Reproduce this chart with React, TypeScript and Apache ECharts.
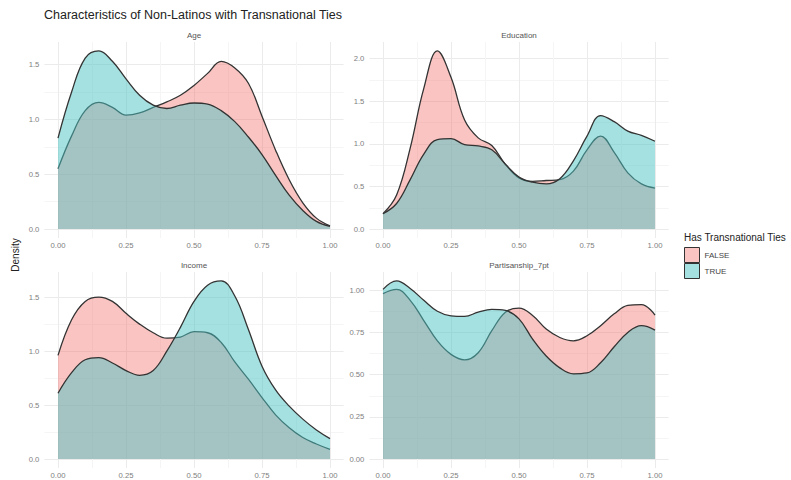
import React, { useEffect, useRef } from "react";
import * as echarts from "echarts";

// ---- data (density estimates) ----
const xValues = [0, 0.05, 0.1, 0.15, 0.2, 0.25, 0.3, 0.35, 0.4, 0.45, 0.5, 0.55, 0.6, 0.65, 0.7, 0.75, 0.8, 0.85, 0.9, 0.95, 1];

const ageFalse = [0.55, 0.85, 1.08, 1.155, 1.11, 1.04, 1.06, 1.11, 1.16, 1.22, 1.31, 1.42, 1.53, 1.47, 1.33, 1.03, 0.72, 0.45, 0.24, 0.1, 0.03];
const ageTrue = [0.83, 1.25, 1.56, 1.625, 1.53, 1.37, 1.22, 1.13, 1.1, 1.13, 1.15, 1.14, 1.08, 0.98, 0.84, 0.68, 0.49, 0.31, 0.17, 0.07, 0.025];

const eduFalse = [0.18, 0.4, 0.95, 1.65, 2.09, 1.78, 1.28, 1.07, 0.98, 0.76, 0.6, 0.56, 0.57, 0.58, 0.68, 0.93, 1.09, 0.9, 0.66, 0.53, 0.48];
const eduTrue = [0.18, 0.3, 0.58, 0.88, 1.05, 1.06, 0.99, 0.975, 0.93, 0.76, 0.61, 0.55, 0.53, 0.59, 0.8, 1.09, 1.33, 1.26, 1.15, 1.1, 1.03];

const incFalse = [0.96, 1.29, 1.46, 1.5, 1.46, 1.35, 1.25, 1.17, 1.12, 1.13, 1.18, 1.17, 1.08, 0.9, 0.74, 0.57, 0.41, 0.29, 0.2, 0.14, 0.09];
const incTrue = [0.61, 0.8, 0.92, 0.94, 0.89, 0.82, 0.776, 0.82, 1.0, 1.22, 1.46, 1.61, 1.65, 1.51, 1.2, 0.86, 0.64, 0.49, 0.37, 0.27, 0.19];

const parFalse = [0.98, 1.005, 0.94, 0.82, 0.7, 0.62, 0.587, 0.63, 0.76, 0.87, 0.894, 0.85, 0.77, 0.72, 0.7, 0.73, 0.79, 0.86, 0.91, 0.915, 0.853];
const parTrue = [1.005, 1.055, 1.01, 0.94, 0.875, 0.848, 0.845, 0.87, 0.886, 0.88, 0.83, 0.71, 0.61, 0.54, 0.505, 0.51, 0.57, 0.665, 0.75, 0.79, 0.764];

const xMajorTicks = [0, 0.25, 0.5, 0.75, 1];
const xMinorTicks = [0.125, 0.375, 0.625, 0.875];
const yMajorHalf = [0, 0.5, 1, 1.5, 2];
const yMinorHalf = [0.25, 0.75, 1.25, 1.75];
const yMajorQuarter = [0, 0.25, 0.5, 0.75, 1];
const yMinorQuarter = [0.125, 0.375, 0.625, 0.875];

const panelNames = ["Age", "Education", "Income", "Partisanship_7pt"];
const groupNames = ["FALSE", "TRUE"];
const legendTitle = "Has Transnational Ties";
const chartTitle = "Characteristics of Non-Latinos with Transnational Ties";
const yTitle = "Density";

const FONT = "'Liberation Sans', Arial, Helvetica, sans-serif";
const FALSE_FILL = "rgba(240,108,100,0.4)";
const TRUE_FILL = "rgba(77,195,195,0.5)";
const LINE = "#333333";
const MAJOR_GRID = "#ebebeb";
const MINOR_GRID = "#f5f5f5";
const TICK_COLOR = "#808080";

const panels = [
  { name: panelNames[0], f: ageFalse, t: ageTrue, yMajor: yMajorHalf, yMinor: yMinorHalf, dec: 1 },
  { name: panelNames[1], f: eduFalse, t: eduTrue, yMajor: yMajorHalf, yMinor: yMinorHalf, dec: 1 },
  { name: panelNames[2], f: incFalse, t: incTrue, yMajor: yMajorHalf, yMinor: yMinorHalf, dec: 1 },
  { name: panelNames[3], f: parFalse, t: parTrue, yMajor: yMajorQuarter, yMinor: yMinorQuarter, dec: 2 },
];

// layout
const colLeft = [44.4, 369.4];
const rowTop = [42, 272];
const panelW = 299.2;
const panelH = 196;

export default function App() {
  const ref = useRef<HTMLDivElement>(null);

  useEffect(() => {
    if (!ref.current) return;
    const chart = echarts.init(ref.current, null, { renderer: "svg" });

    const grids: any[] = [];
    const xAxes: any[] = [];
    const yAxes: any[] = [];
    const series: any[] = [];
    const graphics: any[] = [];

    panels.forEach((p, i) => {
      const col = i % 2;
      const row = Math.floor(i / 2);
      const left = colLeft[col];
      const top = rowTop[row];
      grids.push({ left, top, width: panelW, height: panelH, containLabel: false });

      const xMin = -0.05;
      const xMax = 1.05;
      xAxes.push({
        gridIndex: i,
        type: "value",
        min: xMin,
        max: xMax,
        position: "bottom",
        axisLine: { show: false },
        axisTick: { show: false, customValues: xMajorTicks },
        axisLabel: {
          customValues: xMajorTicks,
          formatter: (v: number) => v.toFixed(2),
          fontSize: 7.7,
          color: TICK_COLOR,
          fontFamily: FONT,
          margin: 3,
        },
        splitLine: { show: true, lineStyle: { color: MAJOR_GRID, width: 1 } },
      });
      xAxes.push({
        gridIndex: i,
        type: "value",
        min: xMin,
        max: xMax,
        position: "top",
        axisLine: { show: false },
        axisTick: { show: false, customValues: xMinorTicks },
        axisLabel: { show: false, customValues: xMinorTicks },
        splitLine: { show: true, lineStyle: { color: MINOR_GRID, width: 1 } },
      });

      const dmax = Math.max(...p.f, ...p.t);
      const yMin = -0.05 * dmax;
      const yMax = 1.05 * dmax;
      yAxes.push({
        gridIndex: i,
        type: "value",
        min: yMin,
        max: yMax,
        position: "left",
        axisLine: { show: false },
        axisTick: { show: false, customValues: p.yMajor },
        axisLabel: {
          customValues: p.yMajor,
          formatter: (v: number) => v.toFixed(p.dec),
          fontSize: 7.7,
          color: TICK_COLOR,
          fontFamily: FONT,
          margin: 5,
        },
        splitLine: { show: true, lineStyle: { color: MAJOR_GRID, width: 1 } },
      });
      yAxes.push({
        gridIndex: i,
        type: "value",
        min: yMin,
        max: yMax,
        position: "right",
        axisLine: { show: false },
        axisTick: { show: false, customValues: p.yMinor },
        axisLabel: { show: false, customValues: p.yMinor },
        splitLine: { show: true, lineStyle: { color: MINOR_GRID, width: 1 } },
      });

      const mk = (name: string, vals: number[], fill: string, z: number) => ({
        type: "line",
        name,
        xAxisIndex: 2 * i,
        yAxisIndex: 2 * i,
        data: xValues.map((x, k) => [x, vals[k]]),
        smooth: 0.4,
        symbol: "none",
        silent: true,
        z,
        lineStyle: { color: LINE, width: 1.3 },
        itemStyle: { color: fill },
        areaStyle: { color: fill, opacity: 1 },
      });
      series.push(mk(groupNames[0], p.f, FALSE_FILL, 2));
      series.push(mk(groupNames[1], p.t, TRUE_FILL, 3));

      graphics.push({
        type: "text",
        x: left + panelW / 2,
        y: top - 7,
        style: {
          text: p.name,
          fill: "#555555",
          font: `8px ${FONT}`,
          textAlign: "center",
          textVerticalAlign: "middle",
        },
      });
    });

    graphics.push({
      type: "text",
      x: 44,
      y: 15,
      style: {
        text: chartTitle,
        fill: "#222222",
        font: `12.5px ${FONT}`,
        textAlign: "left",
        textVerticalAlign: "middle",
      },
    });
    graphics.push({
      type: "text",
      x: 15,
      y: 255,
      rotation: Math.PI / 2,
      style: {
        text: yTitle,
        fill: "#222222",
        font: `10px ${FONT}`,
        textAlign: "center",
        textVerticalAlign: "middle",
      },
    });
    graphics.push({
      type: "text",
      x: 684,
      y: 237,
      style: {
        text: legendTitle,
        fill: "#222222",
        font: `10px ${FONT}`,
        textAlign: "left",
        textVerticalAlign: "middle",
      },
    });

    chart.setOption({
      animation: false,
      backgroundColor: "#ffffff",
      grid: grids,
      xAxis: xAxes,
      yAxis: yAxes,
      series,
      legend: {
        orient: "vertical",
        left: 684,
        top: 247,
        padding: 0,
        itemWidth: 15,
        itemHeight: 15,
        itemGap: 0,
        selectedMode: false,
        textStyle: { fontSize: 8, color: "#444444", fontFamily: FONT },
        data: [
          { name: groupNames[0], icon: "rect", itemStyle: { color: FALSE_FILL, borderColor: LINE, borderWidth: 1 } },
          { name: groupNames[1], icon: "rect", itemStyle: { color: TRUE_FILL, borderColor: LINE, borderWidth: 1 } },
        ],
      },
      graphic: graphics,
    });

    return () => chart.dispose();
  }, []);

  return (
    <div
      ref={ref}
      style={{ position: "fixed", left: 0, top: 0, width: 791, height: 480, background: "#fff" }}
    />
  );
}
